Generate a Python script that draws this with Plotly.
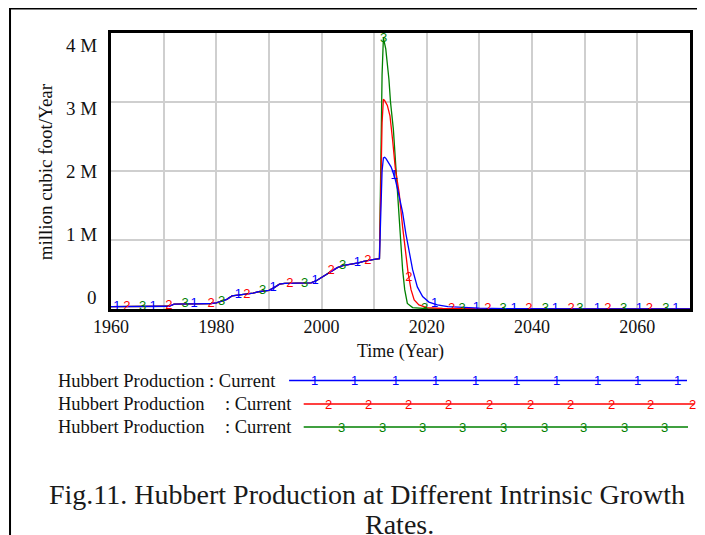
import numpy as np
import plotly.graph_objects as go

# ---------------- data (values in million) ----------------
hist_years = list(range(1960, 2012))
hist_values = [0.035, 0.035, 0.035, 0.035, 0.035, 0.035, 0.035, 0.035, 0.035, 0.035,
               0.035, 0.040, 0.070, 0.075, 0.075, 0.075, 0.075, 0.075, 0.075, 0.080,
               0.090, 0.110, 0.140, 0.190, 0.200, 0.200, 0.210, 0.230, 0.250, 0.260,
               0.270, 0.310, 0.360, 0.370, 0.370, 0.370, 0.370, 0.370, 0.380, 0.410,
               0.460, 0.510, 0.560, 0.600, 0.630, 0.640, 0.650, 0.670, 0.690, 0.710,
               0.720, 0.730]

s1_years = [2011.1, 2011.3, 2011.5, 2011.75, 2012.0, 2012.25, 2012.5, 2012.8, 2013.2, 2013.5,
            2014.0, 2014.5, 2015.0, 2015.4, 2016.0, 2016.65, 2017.3, 2018.2, 2019.2, 2020.4,
            2022.0, 2024.0, 2027.0, 2030.0, 2035.0, 2040.0, 2050.0, 2070.0]
s1_values = [1.00, 1.50, 2.00, 2.19, 2.20, 2.18, 2.15, 2.12, 2.06, 2.00,
             1.88, 1.72, 1.55, 1.40, 1.10, 0.81, 0.57, 0.32, 0.18, 0.10,
             0.06, 0.035, 0.02, 0.012, 0.006, 0.003, 0.001, 0.0]

s2_years = [2011.1, 2011.3, 2011.5, 2011.75, 2012.0, 2012.5, 2013.0, 2013.5, 2014.0, 2014.4,
            2014.75, 2015.4, 2016.0, 2016.45, 2017.0, 2017.6, 2018.5, 2020.0, 2023.0, 2030.0,
            2040.0, 2070.0]
s2_values = [1.20, 2.00, 2.70, 3.04, 3.02, 2.95, 2.80, 2.45, 2.05, 1.85,
             1.68, 1.19, 0.81, 0.52, 0.28, 0.13, 0.06, 0.02, 0.008, 0.003,
             0.001, 0.0]

s3_years = [2011.1, 2011.3, 2011.5, 2011.75, 2012.2, 2012.8, 2013.1, 2013.65, 2014.1, 2014.3,
            2014.75, 2015.1, 2015.4, 2015.8, 2016.3, 2017.3, 2020.0, 2030.0, 2070.0]
s3_values = [1.40, 2.50, 3.40, 3.93, 3.77, 3.33, 3.00, 2.60, 2.10, 1.78,
             1.44, 0.95, 0.57, 0.28, 0.08, 0.02, 0.005, 0.001, 0.0]

s1_label_years = [1961.1, 1968.0, 1975.8, 1984.2, 1990.8, 1998.8, 2006.8, 2013.8, 2021.5,
                  2029.4, 2036.6, 2044.4, 2052.4, 2060.4, 2067.3]
s2_label_years = [1963.0, 1971.0, 1979.0, 1985.8, 1994.0, 2001.8, 2008.8, 2016.6, 2024.7,
                  2031.6, 2039.4, 2047.4, 2054.4, 2062.3]
s3_label_years = [1966.0, 1974.1, 1981.0, 1988.8, 1996.8, 2004.0, 2011.8, 2019.6, 2026.7,
                  2034.5, 2042.5, 2049.1, 2057.4, 2065.4]

x_tick_values = [1960, 1970, 1980, 1990, 2000, 2010, 2020, 2030, 2040, 2050, 2060, 2070]
x_tick_labels = ["1960", "", "1980", "", "2000", "", "2020", "", "2040", "", "2060", ""]
y_tick_values = [0, 1, 2, 3, 4]
y_tick_labels = ["0", "1 M", "2 M", "3 M", "4 M"]

series_names = ["Hubbert Production : Current",
                "Hubbert Production    : Current",
                "Hubbert Production    : Current"]
series_marks = ["1", "2", "3"]
colors = ["#0000FF", "#FF0000", "#008000"]

# ---------------- figure ----------------
# the page body has an 8px margin, so the figure is 8px smaller than the window
W, H = 697, 527
PL, PR, PT, PB = 111, 693, 33, 309     # plot area in window pixels
PW, PH = PR - PL, PB - PT
OFF = 8


def px(x):
    return (x - PL) / PW


def py(y):
    return (PB - y) / PH


serif = "Liberation Serif"
sans = "Liberation Sans"
txt = "#111111"

series = [
    (hist_years + s1_years, hist_values + s1_values, s1_label_years),
    (hist_years + s2_years, hist_values + s2_values, s2_label_years),
    (hist_years + s3_years, hist_values + s3_values, s3_label_years),
]

fig = go.Figure()
for i in [2, 1, 0]:
    xs, ys, _ = series[i]
    fig.add_trace(go.Scatter(x=xs, y=ys, mode="lines",
                             line=dict(color=colors[i], width=1.3),
                             showlegend=False, hoverinfo="skip"))
for i in [2, 1, 0]:
    xs, ys, lx = series[i]
    ly = np.interp(lx, xs, ys)
    fig.add_trace(go.Scatter(x=lx, y=ly, mode="text",
                             text=[series_marks[i]] * len(lx),
                             textposition="middle center",
                             textfont=dict(family=sans, size=13, color=colors[i]),
                             showlegend=False, hoverinfo="skip", cliponaxis=False))

annotations = []
ytick_py = [297.5, 234.5, 171.5, 108.5, 45.5]
for lab, yp in zip(y_tick_labels, ytick_py):
    annotations.append(dict(x=px(99), y=py(yp), xref="paper", yref="paper",
                            text=lab, showarrow=False, xanchor="right", yanchor="middle",
                            font=dict(family=serif, size=19, color=txt)))
annotations.append(dict(x=px(45), y=py(172), xref="paper", yref="paper",
                        text="million cubic foot/Year", textangle=-90, showarrow=False,
                        xanchor="center", yanchor="middle",
                        font=dict(family=serif, size=19, color=txt)))
annotations.append(dict(x=px(402), y=py(351), xref="paper", yref="paper",
                        text="Time (Year)", showarrow=False,
                        xanchor="center", yanchor="middle",
                        font=dict(family=serif, size=18, color=txt)))

# legend
row_y = [380.5, 404, 427]
line_x = [(290, 690), (304.7, 697.4), (304.7, 691)]
mark_x = [
    [315.7, 356, 396.6, 437, 477.4, 518.7, 559, 599.6, 640, 680.4],
    [329.4, 369.8, 410.2, 450.6, 491, 532.8, 572.8, 613.6, 653.6, 695.3],
    [343, 383.8, 423.8, 464.3, 505.1, 546.4, 586, 627.2, 667.7],
]
shapes = []
for i in range(3):
    if i == 0:
        annotations.append(dict(x=px(56), y=py(row_y[i]), xref="paper", yref="paper",
                                text=series_names[i], showarrow=False,
                                xanchor="left", yanchor="middle",
                                font=dict(family=serif, size=18.5, color=txt)))
    else:
        name, cur = series_names[i].split(":")
        annotations.append(dict(x=px(56), y=py(row_y[i]), xref="paper", yref="paper",
                                text=name.strip(), showarrow=False,
                                xanchor="left", yanchor="middle",
                                font=dict(family=serif, size=18.5, color=txt)))
        annotations.append(dict(x=px(224), y=py(row_y[i]), xref="paper", yref="paper",
                                text=":" + cur, showarrow=False,
                                xanchor="left", yanchor="middle",
                                font=dict(family=serif, size=18.5, color=txt)))
    shapes.append(dict(type="line", xref="paper", yref="paper",
                       x0=px(line_x[i][0]), x1=px(line_x[i][1]),
                       y0=py(row_y[i]), y1=py(row_y[i]),
                       line=dict(color=colors[i], width=1.3)))
    for mx in mark_x[i]:
        annotations.append(dict(x=px(mx), y=py(row_y[i]), xref="paper", yref="paper",
                                text=series_marks[i], showarrow=False,
                                xanchor="center", yanchor="middle",
                                font=dict(family=sans, size=13, color=colors[i])))

# caption
annotations.append(dict(x=px(368), y=py(494), xref="paper", yref="paper",
                        text="Fig.11. Hubbert Production at Different Intrinsic Growth",
                        showarrow=False, xanchor="center", yanchor="middle",
                        font=dict(family=serif, size=28, color="#1a1a1a")))
annotations.append(dict(x=px(401), y=py(524), xref="paper", yref="paper",
                        text="Rates.", showarrow=False, xanchor="center", yanchor="middle",
                        font=dict(family=serif, size=28, color="#1a1a1a")))

# outer page frame lines
shapes.append(dict(type="line", xref="paper", yref="paper",
                   x0=px(9.5), x1=px(9.5), y0=py(8), y1=py(545),
                   line=dict(color="black", width=2)))
shapes.append(dict(type="line", xref="paper", yref="paper",
                   x0=px(9), x1=px(715), y0=py(8.5), y1=py(8.5),
                   line=dict(color="black", width=2)))

fig.update_layout(
    width=W, height=H,
    margin=dict(l=PL - OFF, r=W - (PR - OFF), t=PT - OFF, b=H - (PB - OFF)),
    paper_bgcolor="white", plot_bgcolor="white",
    annotations=annotations, shapes=shapes,
    showlegend=False,
)
fig.update_xaxes(range=[1960, 2070], tickvals=x_tick_values, ticktext=x_tick_labels,
                 showgrid=True, gridcolor="#cfcfcf", gridwidth=1.5,
                 showline=True, linecolor="black", linewidth=2.5, mirror=True,
                 ticks="", zeroline=False, ticklabelstandoff=0,
                 tickfont=dict(family=serif, size=18, color=txt))
fig.update_yaxes(range=[0, 4], tickvals=y_tick_values, showticklabels=False,
                 showgrid=True, gridcolor="#cfcfcf", gridwidth=1.5,
                 showline=True, linecolor="black", linewidth=2.5, mirror=True,
                 ticks="", zeroline=False)

fig.write_html("out.html")
